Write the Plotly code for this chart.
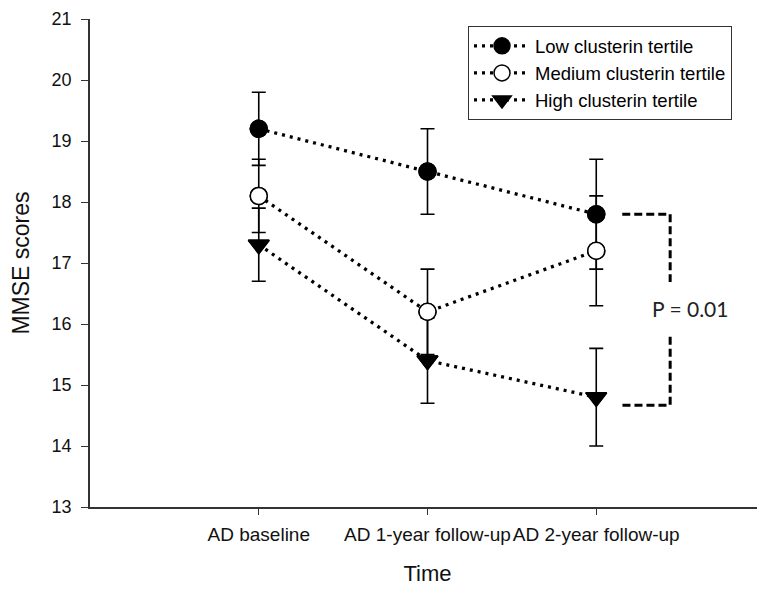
import plotly.graph_objects as go

# ---- data ----
categories = ["AD baseline", "AD 1-year follow-up", "AD 2-year follow-up"]
x_pos = [1, 2, 3]

low_vals = [19.2, 18.5, 17.8]
low_err = [0.6, 0.7, 0.9]

med_vals = [18.1, 16.2, 17.2]
med_err = [0.6, 0.7, 0.9]

high_vals = [17.3, 15.4, 14.8]
high_err = [0.6, 0.7, 0.8]

series_names = ["Low clusterin tertile", "Medium clusterin tertile", "High clusterin tertile"]

y_ticks = [13, 14, 15, 16, 17, 18, 19, 20, 21]

# significance bracket (between low and high at 2-year follow-up)
bracket_x = [3.154, 3.438, 3.438, None, 3.438, 3.438, 3.154]
bracket_y = [17.8, 17.8, 16.69, None, 15.79, 14.67, 14.67]
p_label = "P = 0.01"
p_pos = (3.556, 16.26)

FONT = "Liberation Sans, Arial, sans-serif"
AX = "#333"

fig = go.Figure()

styles = [
    dict(symbol="circle", size=17, color="black", line=dict(color="black", width=1.5)),
    dict(symbol="circle", size=17, color="white", line=dict(color="black", width=1.5)),
    dict(symbol="triangle-down", size=18, color="black", line=dict(color="black", width=1.5)),
]

all_vals = [low_vals, med_vals, high_vals]
all_err = [low_err, med_err, high_err]

for name, vals, err, st in zip(series_names, all_vals, all_err, styles):
    fig.add_trace(go.Scatter(
        x=x_pos, y=vals, name=name, mode="lines+markers",
        line=dict(color="black", width=3.3, dash="3px,5px"),
        marker=st,
        error_y=dict(type="data", array=err, visible=True,
                     color="black", thickness=1.6, width=7),
    ))

# markers redrawn on top so error bars sit behind them
for name, vals, st in zip(series_names, all_vals, styles):
    fig.add_trace(go.Scatter(
        x=x_pos, y=vals, name=name, mode="markers",
        showlegend=False, marker=st, hoverinfo="skip",
    ))

fig.add_trace(go.Scatter(
    x=bracket_x, y=bracket_y, mode="lines", showlegend=False,
    hoverinfo="skip",
    line=dict(color="black", width=3, dash="8px,4px"),
))

fig.add_annotation(
    x=p_pos[0], y=p_pos[1], text=p_label, showarrow=False,
    font=dict(family="Lato, Open Sans, sans-serif", size=21, color="#222"),
    xanchor="center", yanchor="middle",
)

fig.update_layout(
    width=757, height=583,
    margin=dict(l=82, r=0, t=11, b=84),
    plot_bgcolor="white", paper_bgcolor="white",
    font=dict(family=FONT, color="black"),
    showlegend=True,
    legend=dict(
        x=0.56, y=0.985, xanchor="left", yanchor="top",
        bordercolor="#333", borderwidth=1, bgcolor="white",
        font=dict(size=18.5, family=FONT),
        itemwidth=56, tracegroupgap=0,
    ),
    xaxis=dict(
        range=[0, 4], tickmode="array", tickvals=x_pos, ticktext=categories,
        tickangle=0, automargin=False,
        showline=True, linecolor=AX, linewidth=1.8,
        ticks="outside", ticklen=6, tickwidth=1.4, tickcolor=AX,
        showgrid=False, zeroline=False,
        tickfont=dict(size=19, family=FONT, color="#111"),
        ticklabelstandoff=3,
        title=dict(text="Time", font=dict(size=22, family=FONT, color="#111"), standoff=22),
    ),
    yaxis=dict(
        range=[13, 21], tickmode="array", tickvals=y_ticks,
        automargin=False,
        showline=True, linecolor=AX, linewidth=1.8,
        ticks="outside", ticklen=7, tickwidth=1.4, tickcolor=AX,
        showgrid=False, zeroline=False,
        tickfont=dict(size=18, family=FONT, color="#111"),
        ticklabelstandoff=6,
        title=dict(text="MMSE scores", font=dict(size=23, family=FONT, color="#111"), standoff=16),
    ),
)

fig.write_html("out.html")
